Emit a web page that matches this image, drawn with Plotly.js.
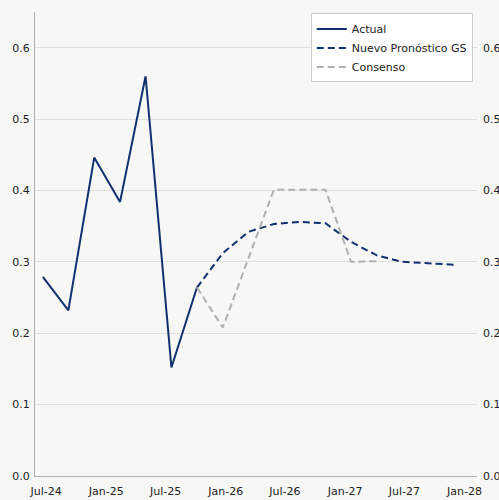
<!DOCTYPE html>
<html>
<head>
<meta charset="utf-8">
<script src="https://cdn.plot.ly/plotly-3.0.1.min.js"></script>
<style>html,body{margin:0;padding:0;background:#f7f7f5;}</style>
</head>
<body>
<div id="chart" style="width:499px;height:500px;"></div>
<script>
// Data
const actualDates = ['2024-06-21','2024-09-07','2024-11-25','2025-02-12','2025-05-01','2025-07-19','2025-10-05'];
const actualValues = [0.279, 0.232, 0.446, 0.384, 0.560, 0.152, 0.264];

const gsDates = ['2025-10-05','2025-12-23','2026-03-11','2026-05-28','2026-08-15','2026-11-02','2027-01-19','2027-04-08','2027-06-25','2027-09-12','2027-11-30'];
const gsValues = [0.264, 0.312, 0.342, 0.353, 0.356, 0.354, 0.328, 0.309, 0.300, 0.298, 0.296];

const consDates = ['2025-10-05','2025-12-23','2026-05-28','2026-11-02','2027-01-19','2027-04-08'];
const consValues = [0.264, 0.208, 0.401, 0.401, 0.300, 0.301];

const seriesNames = ['Actual', 'Nuevo Pronóstico GS', 'Consenso'];

const navy = '#10306f';
const gray = '#b0b0b0';

const traces = [
  {x: actualDates, y: actualValues, name: seriesNames[0], type: 'scatter', mode: 'lines',
   line: {color: navy, width: 2}},
  {x: gsDates, y: gsValues, name: seriesNames[1], type: 'scatter', mode: 'lines',
   line: {color: navy, width: 2, dash: '7px,4px'}},
  {x: consDates, y: consValues, name: seriesNames[2], type: 'scatter', mode: 'lines',
   line: {color: gray, width: 2, dash: '7px,4px'}},
  {x: [actualDates[0]], y: [null], yaxis: 'y2', showlegend: false, hoverinfo: 'skip',
   type: 'scatter', mode: 'lines'}
];

const font = {family: 'DejaVu Sans, sans-serif', size: 11, color: '#222222'};

const layout = {
  width: 499, height: 500,
  paper_bgcolor: '#f7f7f5', plot_bgcolor: '#f7f7f5',
  margin: {l: 35, r: 22, t: 12, b: 24, pad: 0},
  font: font,
  showlegend: true,
  legend: {x: 0.624, y: 0.997, xanchor: 'left', yanchor: 'top',
    bgcolor: '#ffffff', bordercolor: '#cccccc', borderwidth: 1,
    font: font, itemwidth: 30, tracegroupgap: 0},
  xaxis: {type: 'date', range: ['2024-05-28', '2028-02-08'],
    tick0: '2024-07-01', dtick: 'M6', tickformat: '%b-%y',
    showgrid: false, zeroline: false, showline: true, linecolor: '#b0b0b0', linewidth: 1,
    ticks: '', tickfont: font, ticklabelstandoff: 5},
  yaxis: {range: [0, 0.65], dtick: 0.1, tick0: 0, tickformat: '.1f',
    showgrid: true, gridcolor: '#e0e0e0', gridwidth: 1, zeroline: false,
    showline: true, linecolor: '#b0b0b0', linewidth: 1, ticks: '', tickfont: font, ticklabelstandoff: 2},
  yaxis2: {range: [0, 0.65], dtick: 0.1, tick0: 0, tickformat: '.1f', overlaying: 'y', side: 'right',
    showgrid: false, zeroline: false, showline: false, ticks: '', tickfont: font, ticklabelstandoff: 5}
};

Plotly.newPlot('chart', traces, layout, {displayModeBar: false, staticPlot: true});
</script>
</body>
</html>
